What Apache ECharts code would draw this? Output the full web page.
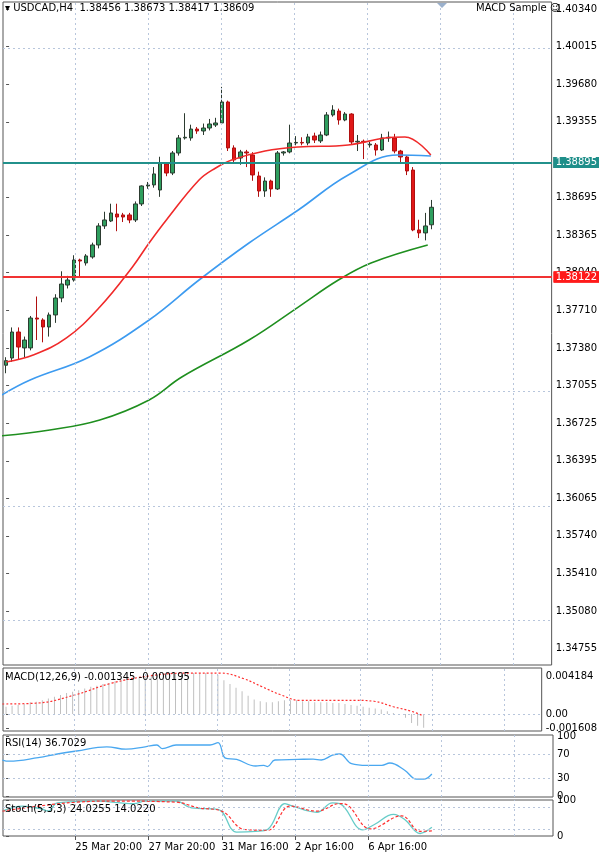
<!DOCTYPE html>
<html><head><meta charset="utf-8">
<script src="https://cdn.jsdelivr.net/npm/echarts@6/dist/echarts.min.js"></script>
<style>html,body{margin:0;padding:0;background:#fff}#c{width:600px;height:852px}</style>
</head><body><div id="c"></div>
<script>
const opens=[1.37230,1.37293,1.37520,1.37381,1.37381,1.37642,1.37625,1.37564,1.37669,1.37817,1.37930,1.37974,1.38149,1.38123,1.38175,1.38280,1.38446,1.38489,1.38550,1.38542,1.38542,1.38498,1.38638,1.38795,1.38804,1.38760,1.38987,1.38908,1.39083,1.39214,1.39214,1.39292,1.39275,1.39301,1.39327,1.39345,1.39528,1.39127,1.39039,1.39092,1.39065,1.38882,1.38751,1.38838,1.38769,1.39083,1.39092,1.39170,1.39175,1.39170,1.39231,1.39188,1.39240,1.39415,1.39449,1.39371,1.39423,1.39179,1.39185,1.39153,1.39153,1.39109,1.39214,1.39214,1.39100,1.39048,1.38934,1.38411,1.38385,1.38456];
const closes=[1.37270,1.37520,1.37389,1.37450,1.37642,1.37633,1.37564,1.37669,1.37817,1.37939,1.37974,1.38149,1.38140,1.38184,1.38280,1.38446,1.38498,1.38559,1.38524,1.38524,1.38498,1.38638,1.38795,1.38804,1.38900,1.38996,1.38908,1.39083,1.39214,1.39220,1.39292,1.39275,1.39301,1.39336,1.39345,1.39528,1.39127,1.39022,1.39092,1.39083,1.38891,1.38751,1.38838,1.38769,1.39083,1.39092,1.39170,1.39175,1.39170,1.39223,1.39196,1.39240,1.39415,1.39458,1.39371,1.39423,1.39179,1.39185,1.39179,1.39160,1.39109,1.39214,1.39220,1.39100,1.39048,1.38926,1.38411,1.38385,1.38446,1.38609];
const highs=[1.37300,1.37560,1.37560,1.37480,1.37660,1.37830,1.37640,1.37690,1.37850,1.38050,1.38010,1.38190,1.38160,1.38200,1.38300,1.38470,1.38570,1.38640,1.38640,1.38560,1.38560,1.38660,1.38800,1.38830,1.38960,1.39050,1.39000,1.39100,1.39240,1.39430,1.39330,1.39310,1.39340,1.39380,1.39390,1.39660,1.39540,1.39150,1.39110,1.39110,1.39090,1.38920,1.38870,1.38850,1.39100,1.39100,1.39330,1.39230,1.39220,1.39250,1.39260,1.39270,1.39440,1.39500,1.39470,1.39440,1.39430,1.39240,1.39200,1.39180,1.39170,1.39250,1.39270,1.39250,1.39110,1.39060,1.38960,1.38500,1.38560,1.38673];
const lows=[1.37160,1.37260,1.37280,1.37300,1.37360,1.37450,1.37430,1.37480,1.37600,1.37780,1.37900,1.37960,1.38000,1.38100,1.38160,1.38250,1.38420,1.38480,1.38400,1.38480,1.38470,1.38480,1.38620,1.38770,1.38780,1.38700,1.38880,1.38890,1.39060,1.39200,1.39190,1.39250,1.39240,1.39280,1.39310,1.39330,1.39100,1.38990,1.38980,1.38960,1.38840,1.38700,1.38700,1.38700,1.38760,1.39060,1.39080,1.39150,1.39150,1.39150,1.39170,1.39170,1.39230,1.39400,1.39330,1.39360,1.39160,1.39100,1.39030,1.39130,1.39060,1.39100,1.39180,1.39080,1.38990,1.38890,1.38400,1.38340,1.38320,1.38417];
// moving averages: [candle index, price]
const maRed=[[0,1.37258],[4.4,1.37319],[9.8,1.37468],[15.2,1.37738],[20.5,1.38088],[23.2,1.38297],[26,1.38498],[31.3,1.38847],[34,1.38952],[36.6,1.39022],[42,1.39100],[47.4,1.39135],[55.5,1.39153],[61.5,1.39214],[64.7,1.39223],[68.9,1.39065]];
const maBlue=[[-1,1.36961],[3.9,1.37101],[13.5,1.37302],[23.2,1.37625],[31.3,1.37974],[39.4,1.38297],[47.4,1.38585],[55.5,1.38891],[63.5,1.39065],[68.9,1.39057]];
const maGreen=[[-1,1.36612],[7.1,1.36665],[15.2,1.36752],[23.2,1.36927],[28.5,1.37127],[39.4,1.37450],[47.4,1.37738],[53.9,1.37974],[59.2,1.38123],[68.4,1.38280]];
const priceTicks=[1.40340,1.40015,1.39680,1.39355,1.39030,1.38695,1.38365,1.38040,1.37710,1.37380,1.37055,1.36725,1.36395,1.36065,1.35740,1.35410,1.35080,1.34755];
const priceLabels=[1.40340,1.40015,1.39680,1.39355,1.38695,1.38365,1.38040,1.37710,1.37380,1.37055,1.36725,1.36395,1.36065,1.35740,1.35410,1.35080,1.34755];
const tealLevels=[1.39226,1.39061,1.38895];
const redLevels=[1.38453,1.38287,1.38122];
const lastPrice=1.38609;
const macdHist=[.0008,.0009,.001,.0011,.0013,.00135,.0015,.0017,.0019,.0021,.0023,.00245,.0026,.0028,.003,.0031,.0033,.0034,.0036,.0037,.0038,.0039,.004,.0041,.0042,.0043,.0043,.0044,.0044,.0044,.0045,.0045,.0045,.0045,.0044,.0043,.0037,.0033,.0029,.0025,.002,.0016,.0014,.0013,.0013,.0014,.0015,.0015,.0015,.0014,.0014,.0013,.0013,.0013,.0012,.0012,.0011,.001,.0009,.0008,.0007,.0006,.0005,.0003,.0001,-.0001,-.0004,-.001,-.0013,-.0015];
const macdSignal=[[-0.6,.0011],[5.2,.0012],[11.4,.0021],[17.5,.0034],[23.8,.0042],[30,.0045],[35.5,.0045],[39.2,.0039],[42.3,.003],[45.4,.0021],[48.5,.0015],[54.6,.0015],[57.7,.0015],[60.8,.0014],[64,.0008],[67,.0003],[68.9,-.0002]];
const macdTicks=[0.004184,0.00,-0.001608];
const rsiLine=[[-0.6,60],[0.5,58],[5.2,64],[8.3,70],[11.4,75],[16.3,82],[19.4,78],[22.5,82],[24.4,85],[25.3,79],[27.5,85],[33,85],[34.3,89],[35.5,63],[37.3,61],[40.4,50],[41.7,51],[42.3,49],[43.5,60],[47.2,61],[49.7,61.6],[51,60],[52.8,68],[54,70],[55.9,54],[58.4,51],[60.8,51],[62.1,55],[64.5,43],[66.4,28],[67.6,28],[68.9,36.7]];
const rsiTicks=[100,70,30,0];
const stochMain=[[-0.6,69],[2.7,83],[5.8,75],[6.8,69],[8.3,92],[14.5,97],[20.7,90],[22.5,97],[27.5,97],[30,78],[34.3,74],[37.3,11],[40.4,13],[42.3,18],[45.1,90],[46,85],[50.3,66],[52.8,92],[54,90],[57.7,17],[59.6,32],[62.7,60],[64.5,46],[67,7],[68.9,24]];
const stochSignal=[[-0.6,69],[5.2,83],[11.4,94],[17.6,97],[27.5,94],[31.2,78],[34.9,69],[38.6,18],[42.3,16],[46,83],[50.3,69],[54,90],[55.3,85],[59,20],[64,56],[67,13],[68.9,14]];
const stochTicks=[100,80,20,0];
const timeLabels=['23 Mar 2026','25 Mar 20:00','27 Mar 20:00','31 Mar 16:00','2 Apr 16:00','6 Apr 16:00'];
const timeTickIdx=[-0.65,11.2,23.05,34.9,46.75,58.6];

const N=89;
const cats=Array.from({length:N},(_,i)=>i);
const F='Tahoma, "DejaVu Sans", sans-serif';
const gridL=3,gridW=550;
const grids=[{top:2,height:663},{top:668,height:63},{top:735,height:62},{top:800,height:37}].map(g=>({left:gridL,width:gridW,top:g.top,height:g.height,show:true,borderColor:'#555',borderWidth:1,backgroundColor:'transparent'}));
const xAxis=[],yAxis=[];
for(let k=0;k<4;k++){
  xAxis.push({type:'category',gridIndex:k,data:cats,boundaryGap:true,show:false});
}
for(let k=0;k<4;k++){
  const last=k===3;
  xAxis.push({type:'value',gridIndex:k,min:-0.5,max:N-0.5,show:last,position:'bottom',
    axisLine:{show:false},axisTick:{show:last,customValues:timeTickIdx,length:4,lineStyle:{color:'#555'}},splitLine:{show:false},
    axisLabel:{show:last,customValues:timeTickIdx,formatter:v=>{const j=timeTickIdx.indexOf(v);return j>=0?timeLabels[j]:'';},align:'left',fontFamily:F,fontSize:10,color:'#000',margin:6}});
}
const ya=(k,min,max,ticks,fmt)=>({type:'value',gridIndex:k,min,max,position:'right',scale:true,
  axisLine:{show:false},splitLine:{show:false},
  axisTick:{show:true,customValues:ticks,length:3,inside:false,lineStyle:{color:'#555'}},
  axisLabel:{customValues:ticks,formatter:fmt,fontFamily:F,fontSize:10,color:'#000',margin:4,showMinLabel:true,showMaxLabel:true}});
yAxis.push(ya(0,1.34613,1.40401,priceLabels,v=>v.toFixed(5)));
yAxis.push(ya(1,-0.00187,0.00506,macdTicks,v=>v===0?'0.00':v.toFixed(6)));
yAxis.push(ya(2,-1.7,101.7,rsiTicks,v=>String(v)));
yAxis.push(ya(3,0,100,stochTicks,v=>String(v)));

const gridDash={color:'#b8c6dc',type:[2,3],width:1};
const vLines=k=>timeTickIdx.concat([70.45,82.3]).map(v=>({xAxis:v,lineStyle:gridDash}));
const hLines=(vals)=>vals.map(v=>({yAxis:v,lineStyle:gridDash}));
const levelLine=(v,c,bg)=>({yAxis:v,lineStyle:{color:c,width:1.6,type:'solid'},label:{show:true,position:'end',formatter:v.toFixed(5),color:'#fff',backgroundColor:bg,padding:[1,2,0,2],fontFamily:F,fontSize:10,distance:2}});
const series=[];
// price grid lines + levels
series.push({type:'line',xAxisIndex:4,yAxisIndex:0,data:[],silent:true,
  markLine:{symbol:'none',silent:true,animation:false,label:{show:false},
    data:[...hLines(priceTicks),...vLines(0),
      {yAxis:lastPrice,lineStyle:{color:'#bcd0ec',width:1,type:'solid'},label:{show:true,position:'end',formatter:lastPrice.toFixed(5),color:'#fff',backgroundColor:'#000',padding:[1,2,0,2],fontFamily:F,fontSize:10,distance:2}},
      ...tealLevels.map(v=>levelLine(v,'#1f8f8a','#1f8f8a')),
      ...redLevels.map(v=>levelLine(v,'#f03030','#ff1a1a'))]}});
series.push({type:'candlestick',xAxisIndex:0,yAxisIndex:0,barWidth:4,
  data:opens.map((o,i)=>[o,closes[i],lows[i],highs[i]]),
  itemStyle:{color:'#2e9e5e',color0:'#e01818',borderColor:'#2c3b30',borderColor0:'#b01010',borderWidth:1}});
const ln=(xi,yi,data,color,w,type)=>({type:'line',xAxisIndex:xi,yAxisIndex:yi,data,smooth:0.4,symbol:'none',lineStyle:{color,width:w,type:type||'solid'},silent:true});
series.push(ln(4,0,maGreen,'#1f8f1f',1.6));
series.push(ln(4,0,maBlue,'#3d9bf0',1.6));
series.push(ln(4,0,maRed,'#f02a2a',1.6));
// MACD
series.push({type:'line',xAxisIndex:5,yAxisIndex:1,data:[],markLine:{symbol:'none',silent:true,label:{show:false},data:[...vLines(1),...hLines([0])]}});
series.push({type:'bar',xAxisIndex:1,yAxisIndex:1,data:macdHist,barWidth:1,itemStyle:{color:'#c0c0c0'},silent:true});
series.push(ln(5,1,macdSignal,'#ff3030',1.2,[2,2]));
// RSI
series.push({type:'line',xAxisIndex:6,yAxisIndex:2,data:[],markLine:{symbol:'none',silent:true,label:{show:false},data:[...vLines(2),...hLines([70,30])]}});
series.push(ln(6,2,rsiLine,'#4aa8f0',1.3));
// Stoch
series.push({type:'line',xAxisIndex:7,yAxisIndex:3,data:[],markLine:{symbol:'none',silent:true,label:{show:false},data:[...vLines(3),...hLines([80,20])]}});
series.push(ln(7,3,stochMain,'#66ccc8',1.3));
series.push(ln(7,3,stochSignal,'#ff3030',1.2,[3,2]));

const txt=(x,y,t,extra)=>({type:'text',left:x,top:y,z:100,style:Object.assign({text:t,font:'10px '+F,fill:'#000'},extra||{})});
const chart=echarts.init(document.getElementById('c'),null,{renderer:'canvas'});
chart.setOption({animation:false,grid:grids,xAxis,yAxis,series,
  graphic:[
    txt(5,3,'▾ USDCAD,H4  1.38456 1.38673 1.38417 1.38609'),
    txt(476,3,'MACD Sample ☺'),
    {type:'polygon',z:100,shape:{points:[[437,3],[447,3],[442,8]]},style:{fill:'#9ab0cc'}},
    txt(5,672,'MACD(12,26,9) -0.001345 -0.000195'),
    txt(5,738,'RSI(14) 36.7029'),
    txt(5,804,'Stoch(5,3,3) 24.0255 14.0220')
  ]});
</script></body></html>
